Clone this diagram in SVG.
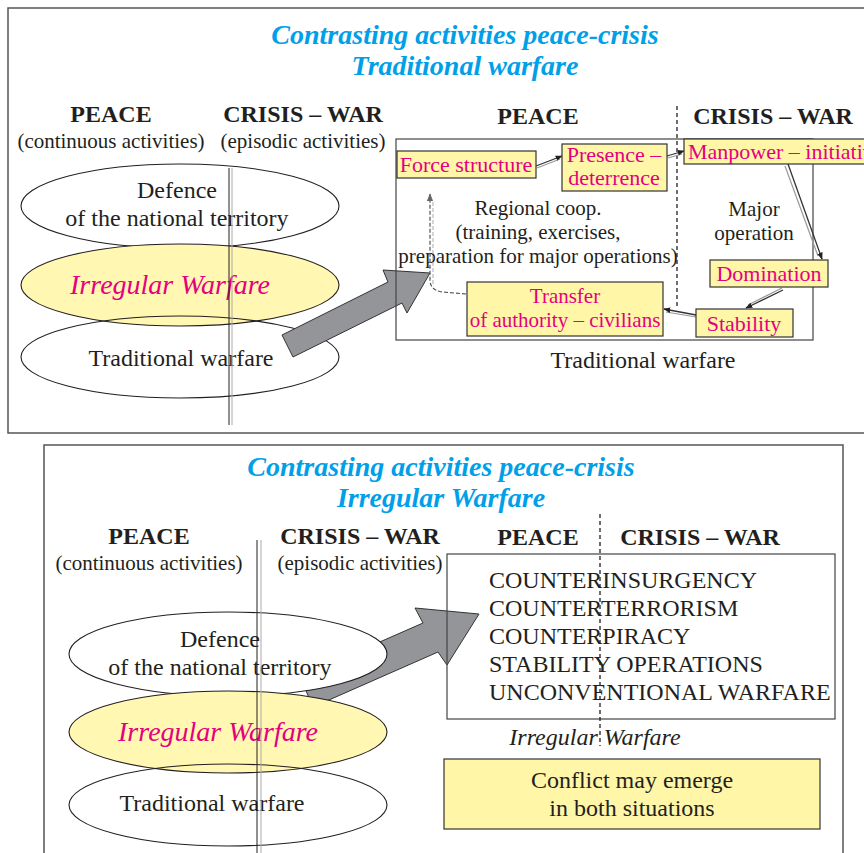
<svg xmlns="http://www.w3.org/2000/svg" width="864" height="853" viewBox="0 0 864 853">
  <defs>
    <style>
      text { font-family: "Liberation Serif", "Times New Roman", serif; fill: #231f20; }
      .title { font-size: 28px; font-weight: bold; font-style: italic; fill: #00a0e9; text-anchor: middle; }
      .head { font-size: 24px; font-weight: bold; text-anchor: middle; }
      .sub { font-size: 21px; text-anchor: middle; }
      .ell { font-size: 24px; text-anchor: middle; }
      .iw { font-size: 28px; font-style: italic; fill: #e4007f; text-anchor: middle; }
      .box { fill: #fff6a8; stroke: #333; stroke-width: 1.2; }
      .btxt { font-size: 22px; fill: #e4007f; text-anchor: middle; }
      .note { font-size: 21px; text-anchor: middle; }
      .list { font-size: 24px; }
      .panel { fill: #fff; stroke: #555; stroke-width: 1.5; }
      .frame { fill: none; stroke: #444; stroke-width: 1.2; }
      .oval { stroke: #231f20; stroke-width: 1.1; }
      .conn { fill: none; stroke: #333; stroke-width: 1.3; }
      .shadow { fill: none; stroke: #999; stroke-width: 1.2; }
      .dash { fill: none; stroke: #555; stroke-width: 1.2; stroke-dasharray: 4 2; }
      .bigarrow { fill: #939598; stroke: #333; stroke-width: 1; }
    </style>
    <marker id="tip" viewBox="0 0 10 10" refX="9" refY="5" markerWidth="7" markerHeight="7" orient="auto" markerUnits="userSpaceOnUse">
      <path d="M0,1 L10,5 L0,9 Z" fill="#231f20"/>
    </marker>
    <marker id="tipGray" viewBox="0 0 10 10" refX="9" refY="5" markerWidth="8" markerHeight="8" orient="auto" markerUnits="userSpaceOnUse">
      <path d="M0,1 L10,5 L0,9 Z" fill="#666"/>
    </marker>
  </defs>

  <!-- ===== Upper panel: traditional warfare ===== -->
  <rect class="panel" x="8" y="8" width="880" height="425"/>
  <text class="title" x="465" y="44">Contrasting activities peace-crisis</text>
  <text class="title" x="465" y="75">Traditional warfare</text>

  <text class="head" x="111" y="122">PEACE</text>
  <text class="head" x="303" y="122">CRISIS – WAR</text>
  <text class="sub" x="111" y="148">(continuous activities)</text>
  <text class="sub" x="303" y="148">(episodic activities)</text>

  <g id="top-defence">
    <ellipse class="oval" cx="180" cy="206" rx="159" ry="42" fill="#fff"/>
    <text class="ell" x="177" y="198">Defence</text>
    <text class="ell" x="177" y="226">of the national territory</text>
  </g>
  <g id="top-irregular">
    <ellipse class="oval" cx="180" cy="285" rx="159" ry="41" fill="#fff7b2"/>
    <text class="iw" x="170" y="294">Irregular Warfare</text>
  </g>
  <g id="top-traditional">
    <ellipse class="oval" cx="180" cy="357" rx="159" ry="41" fill="none"/>
    <text class="ell" x="181" y="366">Traditional warfare</text>
  </g>

  <!-- peace / crisis divider -->
  <line x1="229" y1="168" x2="229" y2="425" stroke="#231f20" stroke-width="1"/>
  <line x1="232" y1="168" x2="232" y2="425" stroke="#aaa" stroke-width="1"/>

  <g id="top-bigarrow">
    <polygon class="bigarrow" points="282,335 388,282 383,270 430,273 407,313 402,303 293,357"/>
  </g>

  <g id="top-frame">
    <rect class="frame" x="396" y="139" width="417" height="201" fill="none"/>
    <line x1="677" y1="106" x2="677" y2="308" stroke="#231f20" stroke-width="1.3" stroke-dasharray="4 3"/>
    <text class="head" x="538" y="124">PEACE</text>
    <text class="head" x="773" y="124">CRISIS – WAR</text>
    <text class="note" x="538" y="215">Regional coop.</text>
    <text class="note" x="538" y="239">(training, exercises,</text>
    <text class="note" x="538" y="263">preparation for major operations)</text>
    <text class="note" x="754" y="216">Major</text>
    <text class="note" x="754" y="240">operation</text>
    <text class="ell" x="643" y="368">Traditional warfare</text>
  </g>

  <g id="connectors">
    <line class="shadow" x1="537" y1="168" x2="560" y2="159"/>
    <line class="conn" x1="536" y1="166" x2="562" y2="156" marker-end="url(#tip)"/>
    <line class="shadow" x1="668" y1="158" x2="682" y2="154"/>
    <line class="conn" x1="667" y1="156" x2="684" y2="151" marker-end="url(#tip)"/>
    <line class="shadow" x1="785" y1="166" x2="818" y2="256"/>
    <line class="conn" x1="788" y1="164" x2="822" y2="259" marker-end="url(#tip)"/>
    <line class="shadow" x1="782" y1="288" x2="748" y2="305"/>
    <line class="conn" x1="783" y1="290" x2="746" y2="308" marker-end="url(#tip)"/>
    <line class="shadow" x1="696" y1="317" x2="666" y2="312"/>
    <line class="conn" x1="696" y1="315" x2="664" y2="309" marker-end="url(#tip)"/>
    <path class="dash" d="M466,294 L442,292 Q430,290 430,280 L430,194" marker-end="url(#tipGray)"/>
    <path d="M433,284 L433,200" fill="none" stroke="#aaa" stroke-width="1" stroke-dasharray="4 2"/>
  </g>

  <g id="force-structure">
    <rect class="box" x="397" y="151" width="139" height="27"/>
    <text class="btxt" x="466" y="172">Force structure</text>
  </g>
  <g id="presence">
    <rect class="box" x="562" y="144" width="105" height="47"/>
    <text class="btxt" x="614" y="162">Presence –</text>
    <text class="btxt" x="614" y="185">deterrence</text>
  </g>
  <g id="manpower">
    <rect class="box" x="684" y="139" width="200" height="25"/>
    <text class="btxt" x="688" y="159" style="text-anchor:start">Manpower – initiative</text>
  </g>
  <g id="domination">
    <rect class="box" x="710" y="260" width="118" height="27"/>
    <text class="btxt" x="769" y="281">Domination</text>
  </g>
  <g id="stability">
    <rect class="box" x="696" y="309" width="97" height="28"/>
    <text class="btxt" x="744" y="331">Stability</text>
  </g>
  <g id="transfer">
    <rect class="box" x="467" y="282" width="196" height="54"/>
    <text class="btxt" x="565" y="303" style="font-size:21px">Transfer</text>
    <text class="btxt" x="565" y="327" style="font-size:21px">of authority – civilians</text>
  </g>

  <!-- ===== Lower panel: irregular warfare ===== -->
  <rect class="panel" x="44" y="445" width="799" height="430"/>
  <text class="title" x="441" y="476">Contrasting activities peace-crisis</text>
  <text class="title" x="441" y="507">Irregular Warfare</text>

  <text class="head" x="149" y="544">PEACE</text>
  <text class="head" x="360" y="544">CRISIS – WAR</text>
  <text class="sub" x="149" y="570">(continuous activities)</text>
  <text class="sub" x="360" y="570">(episodic activities)</text>

  <g id="bottom-bigarrow">
    <polygon class="bigarrow" points="300,677 423,623 415,608 479,614 447,665 438,652 313,707"/>
  </g>

  <g id="bottom-defence">
    <ellipse class="oval" cx="228" cy="654" rx="159" ry="42" fill="#fff"/>
    <text class="ell" x="220" y="647">Defence</text>
    <text class="ell" x="220" y="675">of the national territory</text>
  </g>
  <g id="bottom-irregular">
    <ellipse class="oval" cx="228" cy="732" rx="159" ry="41" fill="#fff7b2"/>
    <text class="iw" x="218" y="741">Irregular Warfare</text>
  </g>
  <g id="bottom-traditional">
    <ellipse class="oval" cx="228" cy="805" rx="159" ry="41" fill="none"/>
    <text class="ell" x="212" y="811">Traditional warfare</text>
  </g>

  <line x1="257" y1="540" x2="257" y2="853" stroke="#231f20" stroke-width="1"/>
  <line x1="261" y1="540" x2="261" y2="853" stroke="#aaa" stroke-width="1"/>

  <g id="irregular-list">
    <rect class="frame" x="447" y="554" width="388" height="165" fill="none"/>
    <line x1="600" y1="514" x2="600" y2="746" stroke="#231f20" stroke-width="1.3" stroke-dasharray="4 3"/>
    <text class="head" x="538" y="545">PEACE</text>
    <text class="head" x="700" y="545">CRISIS – WAR</text>
    <text class="list" x="489" y="588">COUNTERINSURGENCY</text>
    <text class="list" x="489" y="616">COUNTERTERRORISM</text>
    <text class="list" x="489" y="644">COUNTERPIRACY</text>
    <text class="list" x="489" y="672">STABILITY OPERATIONS</text>
    <text class="list" x="489" y="700">UNCONVENTIONAL WARFARE</text>
    <text x="595" y="745" style="font-size:24px;font-style:italic;text-anchor:middle">Irregular Warfare</text>
  </g>

  <g id="conflict-note">
    <rect class="box" x="444" y="759" width="376" height="70"/>
    <text class="ell" x="632" y="788">Conflict may emerge</text>
    <text class="ell" x="632" y="816">in both situations</text>
  </g>
</svg>
